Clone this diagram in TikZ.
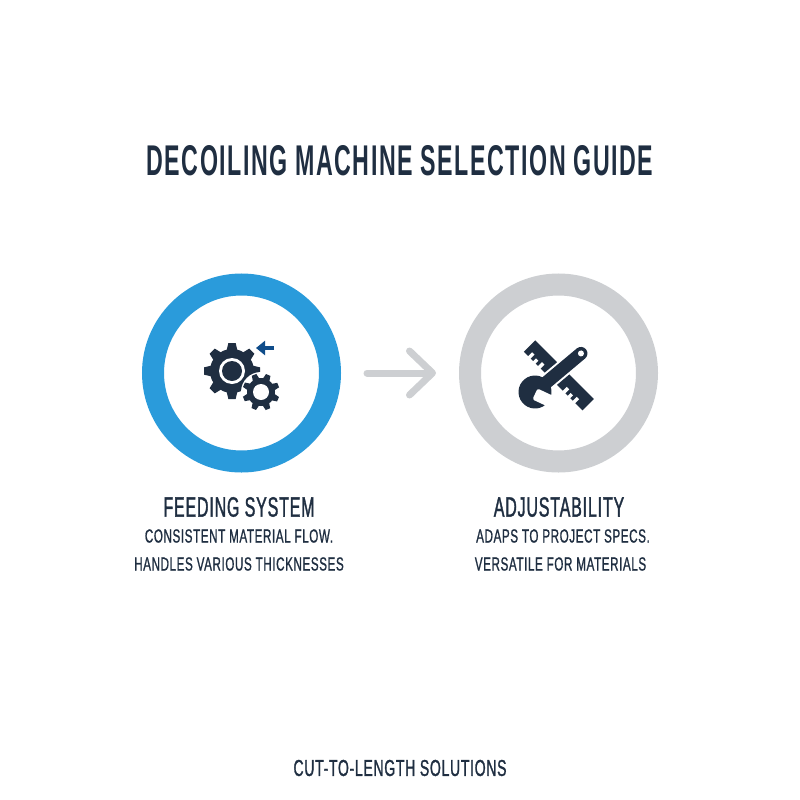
\documentclass[tikz,border=0pt]{standalone}
\usepackage{fontspec}
\usepackage{tikz}
\usetikzlibrary{arrows.meta}
\newfontfamily\titlefont[FakeStretch=.54,LetterSpace=3.5]{Liberation Sans Bold}
\newfontfamily\headfont[FakeStretch=.57,LetterSpace=3,FakeBold=1.2]{Liberation Sans}
\newfontfamily\bodyfont[FakeStretch=.615,LetterSpace=3,FakeBold=.9]{Liberation Sans}
\newfontfamily\footfont[FakeStretch=.61,LetterSpace=3,FakeBold=1.2]{Liberation Sans}
\definecolor{inkcol}{HTML}{1F2E41}
\definecolor{ringblue}{HTML}{2A9BDB}
\definecolor{ringgray}{HTML}{CDCFD2}
\definecolor{arrowblue}{HTML}{0F4C8A}
\tikzset{
    ring/.style={circle, draw=#1, line width=22pt, fill=white, minimum size=177pt, inner sep=0pt},
    maintitle/.style={text=inkcol, inner sep=0pt, font=\titlefont\fontsize{43}{43}\selectfont},
    heading/.style={text=inkcol, inner sep=0pt, font=\headfont\fontsize{28}{28}\selectfont},
    body/.style={text=inkcol, align=center, inner sep=0pt, font=\bodyfont\fontsize{19}{28}\selectfont},
    footer/.style={text=inkcol, inner sep=0pt, font=\footfont\fontsize{23}{23}\selectfont},
}
% center, tooth count, outer radius, root radius, rotation
\newcommand{\gearshape}[5]{
    \fill[inkcol] (#1) circle(#4pt);
    \foreach \a in {1,...,#2} {
        \fill[inkcol, shift={(#1)}, rotate=#5+\a*360/#2]
            (#4-1,-#3*0.19) -- (#3,-#3*0.13) -- (#3,#3*0.13) -- (#4-1,#3*0.19) -- cycle;
    }
}
\begin{document}
\begin{tikzpicture}[x=1pt, y=-1pt]
    \useasboundingbox (0,0) rectangle (800,800);
    \node[maintitle] (title) at (400,161) {DECOILING MACHINE SELECTION GUIDE};

    \node[ring=ringblue] (feedring) at (241.5,373) {};
    \node[ring=ringgray] (adjustring) at (558.5,373) {};
    \draw[ringgray, line width=7pt, line cap=round, shorten <=26pt, shorten >=23pt,
        -{Straight Barb[length=23pt, width=44pt, round]}] (feedring) -- (adjustring);

    % gears
    \gearshape{232,371}{8}{28}{22}{0}
    \fill[white] (232,371) circle(13pt);
    \fill[inkcol] (232,371) circle(10pt);
    \fill[white] (261,392) circle(20pt);
    \gearshape{261,392}{8}{18.5}{14}{22}
    \fill[white] (261,392) circle(8pt);
    \coordinate (pushstart) at (274,348);
    \coordinate (pushend) at (256,348);
    \draw[arrowblue, line width=3.5pt, -{Triangle[length=9pt, width=14pt]}] (pushstart) -- (pushend);

    % ruler
    \begin{scope}[shift={(529.5,346)}, rotate=-45]
        \fill[inkcol] (0,-8) rectangle (83,8);
        \foreach \t/\h in {8/5.5,15/4,22/5.5,57/5.5,64/4,71/5.5} {
            \fill[white] (\t-1.7,8.1-\h) rectangle (\t+1.7,8.5);
        }
    \end{scope}
    % wrench
    \begin{scope}[shift={(535,392)}, rotate=40]
        \draw[white, line width=17pt] (12,0) -- (52,0);
        \draw[inkcol, line width=13pt, line cap=round] (0,0) -- (60,0);
        \fill[inkcol] (0,0) circle(16.5pt);
        \fill[white] (60,0) circle(3pt);
    \end{scope}
    \begin{scope}[shift={(535,394)}, rotate=-25]
        \fill[white, rounded corners=2pt] (0,-6) -- (24,-6) -- (24,6) -- (0,6) -- cycle;
    \end{scope}

    \node[heading] (feedtitle) at (239,507) {FEEDING SYSTEM};
    \node[body] (feedtext) at (239,550) {CONSISTENT MATERIAL FLOW.\\HANDLES VARIOUS THICKNESSES};
    \node[heading] (adjusttitle) at (559,507) {ADJUSTABILITY};
    \node[body] (adjusttext) at (560.5,550) {\hspace*{5pt}ADAPS TO PROJECT SPECS.\\VERSATILE FOR MATERIALS};
    \node[footer] (footer) at (400,768) {CUT-TO-LENGTH SOLUTIONS};
\end{tikzpicture}
\end{document}
